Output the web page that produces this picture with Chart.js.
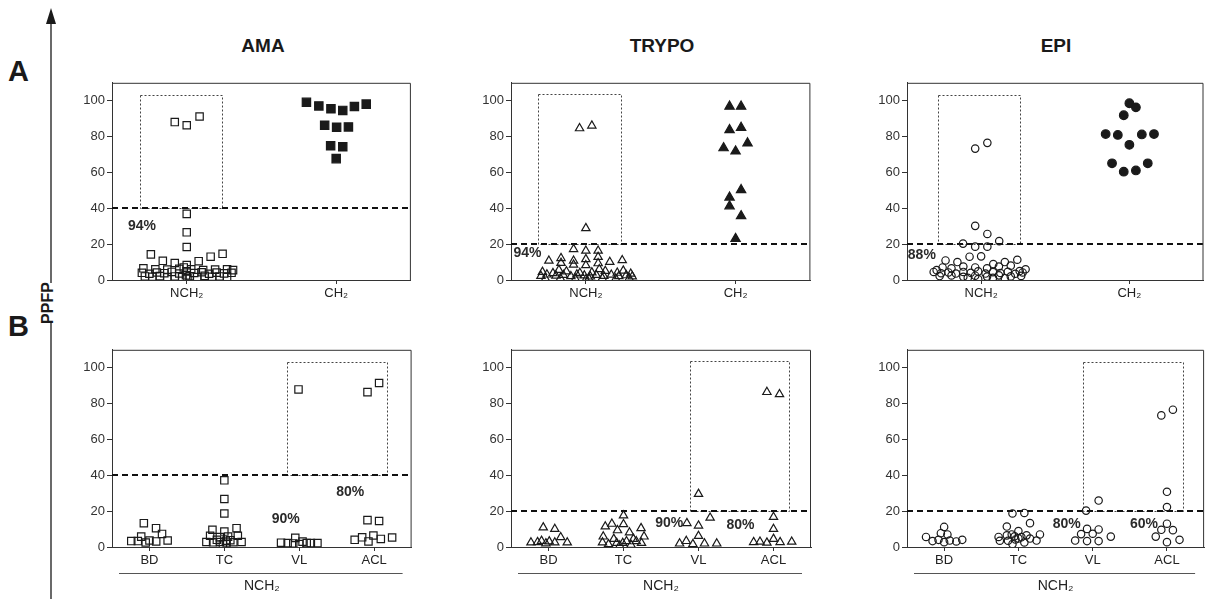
<!DOCTYPE html>
<html>
<head>
<meta charset="utf-8">
<script src="https://cdn.jsdelivr.net/npm/chart.js@4.4.1/dist/chart.umd.min.js"></script>
<style>
  body { margin: 0; background: #fff; width: 1212px; height: 599px; position: relative; overflow: hidden;
         font-family: "Liberation Sans", Arial, sans-serif; }
  canvas { position: absolute; }
  .lbl { position: absolute; font-weight: bold; color: #1a1a1a; white-space: nowrap; }
  .title { font-family: "Liberation Sans Narrow", "Liberation Sans", Arial, sans-serif; font-size: 19px;
           transform: translateX(-50%); top: 35px; }
  .panel { font-size: 29px; left: 8px; }
  #ppfp { font-size: 16px; left: 48px; top: 303px; transform: translate(-50%, -50%) rotate(-90deg); }
  svg { position: absolute; left: 0; top: 0; }
</style>
</head>
<body>
<svg width="80" height="599">
  <line x1="51" y1="20" x2="51" y2="283" stroke="#1a1a1a" stroke-width="1.3"/>
  <polygon points="51,8 46,24 56,24" fill="#1a1a1a"/>
  <line x1="51" y1="322" x2="51" y2="599" stroke="#1a1a1a" stroke-width="1.3"/>
</svg>
<div class="lbl panel" style="top:55px">A</div>
<div class="lbl panel" style="top:310px">B</div>
<div class="lbl" id="ppfp">PPFP</div>

<script>
// values: each point is [x jitter, PPFP %]
const yTicks = [0, 20, 40, 60, 80, 100];
const rowACats = ['NCH\u2082', 'CH\u2082'];
const rowBCats = ['BD', 'TC', 'VL', 'ACL'];
const groupLabel = 'NCH\u2082';
const titles = ['AMA', 'TRYPO', 'EPI'];
const cutoffs = [40, 20, 20];

// row A
const amaNch2 = [[-0.08,88.1],[0,86.3],[0.086,91.2],[0,36.9],[0,26.6],[0,18.4],
  [-0.24,14.3],[-0.16,10.7],[-0.08,9.5],[0,8.3],[0.08,10.5],[0.16,13],[0.24,14.6],[-0.02,7],
  [-0.29,6.5],[-0.21,6],[-0.13,5.8],[-0.05,6.2],[0.03,6],[0.11,5.5],[0.19,5.8],[0.27,6],[0.31,5.5],
  [-0.3,4],[-0.25,3.5],[-0.2,4.2],[-0.15,3.8],[-0.1,4.5],[-0.05,3.6],[0,4.8],[0.05,3.9],[0.1,4.3],[0.15,3.5],[0.2,4.1],[0.25,3.7],[0.3,4],
  [-0.28,2],[-0.23,1.8],[-0.18,2.2],[-0.13,1.5],[-0.08,2],[-0.03,1.6],[0.02,2.1],[0.07,1.7],[0.12,2.3],[0.17,1.8],[0.22,2],[0.27,1.6],[0.005,1],[-0.005,2.6]];
const amaCh2 = [[-0.199,99.1],[-0.116,97.1],[-0.035,95.5],[0.044,94.6],[0.122,96.8],[0.201,98.1],
  [-0.077,86.3],[0.003,85.2],[0.082,85.4],[-0.037,74.9],[0.044,74.3],[0,67.7]];
const trypoNch2 = [[-0.042,84.6],[0.04,86.1],[0,28.9],
  [-0.082,17.2],[0,16.3],[0.082,16.3],[-0.247,10.7],[-0.166,12.2],[-0.166,9.5],[-0.082,10.7],[-0.082,8.5],[0,11.6],[0,8.2],[0.082,12.8],[0.082,9.3],[0.16,10],[0.243,11],
  [-0.29,4.5],[-0.22,3.8],[-0.13,4.8],[-0.04,3.9],[0.04,4.2],[0.13,5],[0.21,4],[0.3,3.5],[-0.18,5.6],[0.09,6],[0.25,5.2],
  [-0.3,2.2],[-0.26,3],[-0.2,2.4],[-0.15,2.8],[-0.1,2.1],[-0.06,3],[-0.01,2.5],[0.03,1.9],[0.07,2.8],[0.12,2.2],[0.17,2.9],[0.22,2.1],[0.27,2.6],[0.31,2],
  [-0.27,0.8],[-0.17,1],[-0.07,0.7],[0.02,0.9],[0.11,1],[0.2,0.8],[0.29,1],[0,0.3]];
const trypoCh2 = [[-0.04,96.8],[0.037,96.8],[-0.04,83.7],[0.037,85],[-0.08,73.6],[0,71.8],[0.08,76.3],
  [-0.04,46.1],[0.037,50.3],[-0.04,41.2],[0.037,35.7],[0,23]];
const epiNch2 = [[-0.04,73.3],[0.042,76.5],[-0.04,30.2],[0.042,25.7],[0.122,21.7],[-0.122,20.3],
  [-0.04,18.6],[0.042,18.6],[-0.24,10.9],[-0.16,10],[-0.078,13],[0,13.2],[0.082,8.9],[0.16,10],[0.244,11.3],
  [-0.3,5.5],[-0.2,6.5],[-0.12,7.5],[-0.04,7],[0.04,6.5],[0.12,7.5],[0.2,8],[0.3,6],[-0.26,7],[0.26,5],
  [-0.32,4.5],[-0.27,3.8],[-0.22,4.2],[-0.17,3.6],[-0.12,4.5],[-0.07,4],[-0.02,4.8],[0.03,3.6],[0.08,4.4],[0.13,3.9],[0.18,4.6],[0.23,3.5],[0.28,4.2],
  [-0.28,2.2],[-0.2,2.5],[-0.12,1.8],[-0.04,2.4],[0.04,1.9],[0.12,2.6],[0.2,2],[0.27,2.3],[-0.02,0.5],[0.08,1.2],[-0.09,1.2],[0.16,1]];
const epiCh2 = [[0,98.6],[0.044,96.3],[-0.038,91.9],[-0.16,81.4],[-0.078,80.9],[0.084,81.2],[0.166,81.4],
  [0,75.4],[-0.117,65.1],[0.124,65.1],[-0.038,60.4],[0.044,61.1]];

// row B (NCH2 split by clinical form)
const amaBD = [[-0.075,13.3],[0.088,10.5],[0.168,7.3],[-0.11,5.8],[-0.243,3.3],[-0.155,3.3],[0,3.6],[0.09,3.1],[0.243,3.6],[-0.05,2.5]];
const amaTC = [[0,37.2],[0,26.8],[0,18.7],[-0.159,9.6],[0.163,10.5],[0,8.6],[-0.19,6.3],[0.18,6.3],[-0.06,5.5],[0.05,5.8],
  [-0.24,2.8],[-0.15,2.6],[-0.06,2.8],[0.03,2.5],[0.12,2.7],[0.23,2.8],[-0.1,4],[0.08,3.8],[-0.02,1.5],[0.02,3.5]];
const amaVL = [[-0.01,87.9],[-0.053,5.1],[-0.243,2.4],[-0.155,2.2],[-0.08,2],[0,1.6],[0.044,3],[0.1,2.2],[0.155,2.2],[0.243,2.2]];
const amaACL = [[-0.089,86.4],[0.066,91.5],[-0.089,15],[0.066,14.5],[-0.26,4],[-0.16,5.4],[-0.076,3.1],[-0.01,6.4],[0.089,4.5],[0.24,5.3]];
const trypoBD = [[-0.07,10.9],[0.084,10],[0.163,5.4],[-0.234,2.5],[-0.146,2.7],[-0.093,3.4],[0.01,3.1],[0.084,2.5],[0.25,2.5],[-0.035,2]];
const trypoTC = [[0,17.6],[-0.243,11.4],[-0.155,12.9],[0,12.7],[-0.08,9.3],[0.08,8.1],[0.234,10.5],[0.274,5.8],[-0.27,5.8],[0.132,4.5],
  [-0.13,4.5],[-0.28,2.5],[-0.2,1.5],[-0.09,2.2],[-0.01,2.2],[0.04,3.2],[0.17,3.2],[0.24,2.2],[-0.05,0.8],[0.1,1.2]];
const trypoVL = [[0,29.6],[0.155,16.3],[-0.155,13.3],[0,11.9],[0,6.1],[-0.252,1.9],[-0.163,3.3],[-0.075,1.6],[0.08,1.9],[0.243,1.9]];
const trypoACL = [[-0.088,86.4],[0.08,85.2],[0,16.7],[0,10],[-0.265,2.7],[-0.18,2.9],[-0.088,2.4],[0,4.5],[0.088,2.7],[0.243,2.9]];
const epiBD = [[0,11.2],[-0.044,7.7],[0.044,7],[-0.244,5.6],[-0.156,3.3],[-0.076,4],[0,2.7],[0.076,3.6],[0.164,3.1],[0.244,4]];
const epiTC = [[-0.08,18.7],[0.08,19],[0.156,13.3],[-0.156,11.4],[-0.267,5.6],[-0.25,3.5],[-0.156,6.5],[-0.09,7],[0,8.9],[-0.05,6],
  [0,4.8],[0.11,6.5],[0.29,7],[-0.08,1.6],[0.08,2.5],[0.156,4.7],[0.244,3.6],[-0.14,3.5],[-0.04,4.2],[0.04,5.5]];
const epiVL = [[-0.089,20.3],[0.08,25.9],[-0.076,10.1],[0.08,9.8],[-0.156,7.2],[0,7.4],[-0.236,3.6],[-0.076,3.3],[0.08,3.3],[0.244,5.8]];
const epiACL = [[-0.076,73.4],[0.08,76.6],[0,30.8],[0,22.3],[0,13],[-0.076,9.6],[0.08,9.4],[-0.151,5.8],[0.169,4],[0,2.7]];

// dotted boxes [x from, x to, top] in axis units, bottom sits on the cutoff
const boxesA = [[0.685,1.237,103],[0.683,1.235,103.6],[0.71,1.26,103]];
const boxesB = [[2.84,4.17,103],[2.88,4.21,103.6],[2.87,4.21,103]];
// percentage notes [text, x, y]
const pctA = [[['94%',0.70,29.8]], [['94%',0.61,15.2]], [['88%',0.60,14]]];
const pctB = [[['90%',2.82,15.8],['80%',3.68,30.4]], [['90%',2.61,13.4],['80%',3.56,12.3]], [['80%',2.65,12.9],['60%',3.69,12.9]]];

const frameX = [[112,414],[511,813],[907,1205]];
const marker = [['rect',5.2,5.9],['triangle',4.8,5.4],['circle',3.7,4.3]];
const ink = '#1a1a1a';

const decor = {
  id: 'decor',
  beforeDatasetsDraw(chart, args, o) {
    const {ctx, chartArea: a, scales: {x, y}} = chart;
    ctx.save();
    // dotted box
    const L = Math.round(x.getPixelForValue(o.box[0])) + 0.5;
    const R = Math.round(x.getPixelForValue(o.box[1])) + 0.5;
    const T = Math.round(y.getPixelForValue(o.box[2])) + 0.5;
    const B = Math.round(y.getPixelForValue(o.cut)) + 0.5;
    ctx.strokeStyle = '#444'; ctx.lineWidth = 1; ctx.setLineDash([2, 2]);
    ctx.strokeRect(L, T, R - L, B - T);
    // cutoff
    ctx.strokeStyle = '#111'; ctx.lineWidth = 2; ctx.setLineDash([6, 4]);
    ctx.beginPath(); ctx.moveTo(a.left, B - 0.5); ctx.lineTo(a.right, B - 0.5); ctx.stroke();
    // frame top/right
    ctx.setLineDash([]); ctx.lineWidth = 1; ctx.strokeStyle = '#333';
    ctx.beginPath();
    ctx.moveTo(a.left, a.top + 0.5); ctx.lineTo(a.right - 0.5, a.top + 0.5); ctx.lineTo(a.right - 0.5, a.bottom);
    ctx.stroke();
    // percentages
    ctx.fillStyle = '#2a2a2a'; ctx.font = 'bold 14px "Liberation Sans", Arial, sans-serif';
    ctx.textAlign = 'center'; ctx.textBaseline = 'middle';
    o.pct.forEach(p => ctx.fillText(p[0], x.getPixelForValue(p[1]), y.getPixelForValue(p[2])));
    // group line under row B
    if (o.group) {
      const gy = Math.round(a.bottom + 26) + 0.5;
      ctx.strokeStyle = '#555';
      ctx.beginPath(); ctx.moveTo(a.left + 7, gy); ctx.lineTo(a.right - 9, gy); ctx.stroke();
      ctx.fillStyle = '#222'; ctx.font = '14px "Liberation Sans", Arial, sans-serif';
      ctx.fillText(o.group, (a.left + a.right) / 2, gy + 13);
    }
    ctx.restore();
  }
};

function pts(arr, cat) {
  return arr.map(p => ({x: cat + 1 + p[0], y: p[1]}));
}

function panel(col, top, frameH, bottomH, cats, groups, box, pct, group) {
  const padL = 50, padT = 4, padR = 4;
  const w = padL + frameX[col][1] - frameX[col][0] + padR;
  const h = padT + frameH + bottomH;
  const cv = document.createElement('canvas');
  cv.width = w; cv.height = h;
  cv.style.left = (frameX[col][0] - padL) + 'px';
  cv.style.top = (top - padT) + 'px';
  document.body.appendChild(cv);
  const [style, rOpen, rFill] = marker[col];
  const datasets = groups.map((g, i) => ({
    data: pts(g.data, i),
    pointStyle: style,
    pointRadius: g.filled ? rFill : rOpen,
    pointBackgroundColor: g.filled ? ink : 'rgba(255,255,255,0)',
    pointBorderColor: ink,
    pointBorderWidth: 1.2,
    pointHoverRadius: g.filled ? rFill : rOpen
  }));
  const tickFont = {family: '"Liberation Sans", Arial, sans-serif', size: 13};
  new Chart(cv, {
    type: 'scatter',
    data: {datasets},
    options: {
      responsive: false, animation: false,
      layout: {padding: {top: padT, right: padR, left: 0, bottom: 0}},
      plugins: {legend: {display: false}, tooltip: {enabled: false},
        decor: {box, cut: cutoffs[col], pct, group}},
      scales: {
        x: {
          type: 'linear', min: 0.5, max: cats.length + 0.5,
          afterBuildTicks: s => { s.ticks = cats.map((c, i) => ({value: i + 1})); },
          afterFit: s => { s.height = bottomH; },
          ticks: {callback: v => cats[v - 1], color: '#222', font: tickFont, padding: 2, maxRotation: 0},
          grid: {drawOnChartArea: false, drawTicks: true, tickLength: 4, color: '#333'},
          border: {display: true, color: '#333', width: 1}
        },
        y: {
          min: 0, max: 110,
          afterBuildTicks: s => { s.ticks = yTicks.map(v => ({value: v})); },
          afterFit: s => { s.width = padL; },
          ticks: {color: '#333', font: tickFont, padding: 2},
          grid: {drawOnChartArea: false, drawTicks: true, tickLength: 5, color: '#333'},
          border: {display: true, color: '#333', width: 1}
        }
      }
    },
    plugins: [decor]
  });
}

const rowA = [[amaNch2, amaCh2], [trypoNch2, trypoCh2], [epiNch2, epiCh2]];
const rowB = [[amaBD, amaTC, amaVL, amaACL], [trypoBD, trypoTC, trypoVL, trypoACL], [epiBD, epiTC, epiVL, epiACL]];

for (let c = 0; c < 3; c++) {
  const t = document.createElement('div');
  t.className = 'lbl title';
  t.style.left = ((frameX[c][0] + frameX[c][1]) / 2) + 'px';
  t.textContent = titles[c];
  document.body.appendChild(t);

  panel(c, 77, 203, 26, rowACats,
    [{data: rowA[c][0], filled: false}, {data: rowA[c][1], filled: true}],
    boxesA[c], pctA[c], null);
  panel(c, 344, 203, 52, rowBCats,
    rowB[c].map(d => ({data: d, filled: false})),
    boxesB[c], pctB[c], groupLabel);
}
</script>
</body>
</html>
